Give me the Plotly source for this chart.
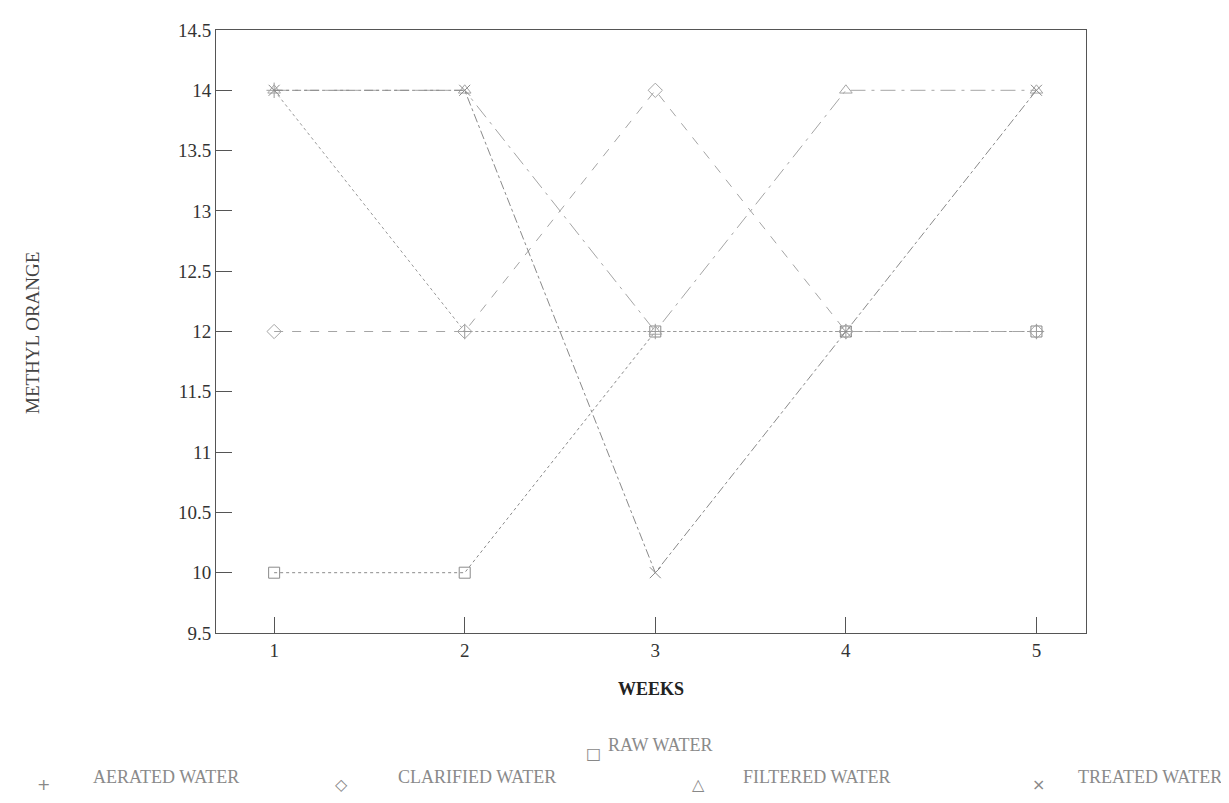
import plotly.graph_objects as go

weeks = [1, 2, 3, 4, 5]
raw_water = [10, 10, 12, 12, 12]
aerated_water = [14, 12, 12, 12, 12]
clarified_water = [12, 12, 14, 12, 12]
filtered_water = [14, 14, 12, 14, 14]
treated_water = [14, 14, 10, 12, 14]

y_ticks = [9.5, 10, 10.5, 11, 11.5, 12, 12.5, 13, 13.5, 14, 14.5]
x_ticks = [1, 2, 3, 4, 5]

series = [
    ("RAW WATER", raw_water, "square-open", "dot", "#8a8a8a"),
    ("AERATED WATER", aerated_water, "cross-thin-open", "dot", "#9a9a9a"),
    ("CLARIFIED WATER", clarified_water, "diamond-open", "dash", "#a5a5a5"),
    ("FILTERED WATER", filtered_water, "triangle-up-open", "longdashdot", "#a5a5a5"),
    ("TREATED WATER", treated_water, "x-thin-open", "dashdot", "#8a8a8a"),
]

fig = go.Figure()
for name, vals, sym, dash, col in series:
    fig.add_trace(go.Scatter(
        x=weeks, y=vals, name=name, mode="lines+markers",
        line=dict(color=col, width=1, dash=dash),
        marker=dict(symbol=sym, size=11, color=col, line=dict(color=col, width=1)),
        showlegend=False,
    ))

font_family = "Liberation Serif"
W, H = 1229, 803
ML, MR, MT, MB = 208, 151, 18, 178
fig.update_layout(
    width=W, height=H,
    margin=dict(l=ML, r=MR, t=MT, b=MB),
    paper_bgcolor="white", plot_bgcolor="white",
    font=dict(family=font_family, size=19, color="#333333"),
    xaxis=dict(range=[0.695, 5.26], tickvals=x_ticks, ticks="inside", ticklen=16,
               tickcolor="#555555", showline=True, linecolor="#555555", mirror=True,
               showgrid=False, zeroline=False,
               tickfont=dict(size=19, color="#333333", family=font_family)),
    yaxis=dict(range=[9.5, 14.5], tickvals=y_ticks, ticktext=[f"{v:g}" for v in y_ticks],
               ticks="inside", ticklen=16, tickcolor="#555555", showline=True,
               linecolor="#555555", mirror=True, showgrid=False, zeroline=False,
               tickfont=dict(size=19, color="#333333", family=font_family)),
)

plot_w = W - ML - MR
plot_h = H - MT - MB
# reference pixel positions are relative to the page; page content is offset by ~7px
OFF = 7
def px(xp):
    return (xp - OFF - ML) / plot_w
def py(yp):
    return (H - MB - (yp - OFF)) / plot_h

annotations = [
    dict(text="<b>WEEKS</b>", x=px(650), y=py(688), xref="paper", yref="paper", showarrow=False,
         xanchor="center", yanchor="middle", font=dict(size=18, color="#222222", family=font_family)),
    dict(text="METHYL ORANGE", x=px(32), y=py(330), xref="paper", yref="paper", showarrow=False,
         xanchor="center", yanchor="middle",
         textangle=-90, font=dict(size=19, color="#444444", family=font_family)),
]

legend_items = [
    ("□", "RAW WATER", 592, 605, 751),
    ("+", "AERATED WATER", 42, 90, 783),
    ("◇", "CLARIFIED WATER", 340, 395, 783),
    ("△", "FILTERED WATER", 697, 740, 783),
    ("×", "TREATED WATER", 1037, 1075, 783),
]
for sym, label, sx, tx, yy in legend_items:
    annotations.append(dict(text=sym, x=px(sx), y=py(yy + 2), xref="paper", yref="paper",
                            showarrow=False, xanchor="center", yanchor="middle",
                            font=dict(size=16, color="#888888", family="DejaVu Sans")))
    annotations.append(dict(text=label, x=px(tx), y=py(yy - 6), xref="paper", yref="paper",
                            showarrow=False, xanchor="left", yanchor="middle",
                            font=dict(size=18, color="#8a8a8a", family=font_family)))
fig.update_layout(annotations=annotations)

fig.write_html("out.html")
